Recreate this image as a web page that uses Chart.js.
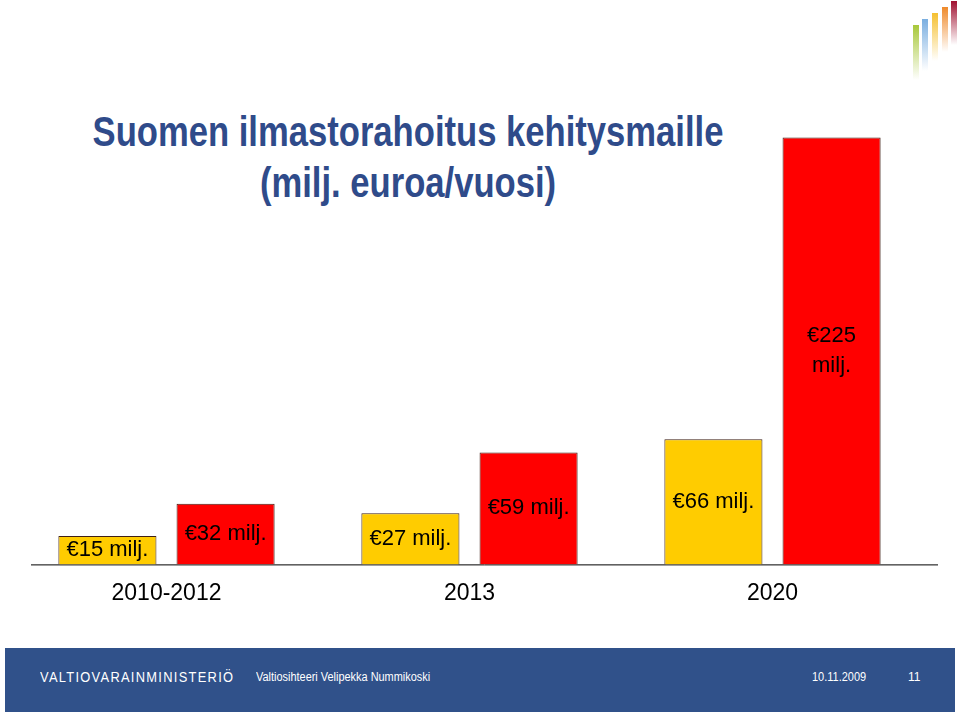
<!DOCTYPE html>
<html>
<head>
<meta charset="utf-8">
<script src="https://cdn.jsdelivr.net/npm/chart.js@4"></script>
<style>
  html, body { margin: 0; padding: 0; background: #fff; }
  body { width: 960px; height: 716px; position: relative; overflow: hidden;
         font-family: "Liberation Sans", Arial, sans-serif; }
  #wrap { position: absolute; left: 0; top: 80px; width: 960px; height: 560px; }
  .title { position: absolute; left: 0; top: 106px; width: 816px; text-align: center;
           font-weight: bold; font-size: 42px; line-height: 51px; color: #2f4b8a;
           transform: scaleX(0.824); transform-origin: 408px 0; }
  .footer { position: absolute; left: 5px; top: 648px; width: 950px; height: 64px; background: #30518a; }
  .ft { position: absolute; color: #fff; white-space: nowrap; transform-origin: 0 50%; }
  .logo i { position: absolute; width: 6px; display: block; }
</style>
</head>
<body>

<div class="logo">
  <i style="left:913px;top:25px;height:55px;background:linear-gradient(#a8c83a,rgba(168,200,58,0))"></i>
  <i style="left:922px;top:19px;height:52px;background:linear-gradient(#7aaee0,rgba(122,174,224,0))"></i>
  <i style="left:932px;top:13px;height:48px;background:linear-gradient(#f5c030,rgba(245,192,48,0))"></i>
  <i style="left:942px;top:7px;height:45px;background:linear-gradient(#ef8a2a,rgba(239,138,42,0))"></i>
  <i style="left:951px;top:1px;height:44px;background:linear-gradient(#a01030,rgba(160,16,48,0))"></i>
</div>

<div class="title">Suomen ilmastorahoitus kehitysmaille<br>(milj. euroa/vuosi)</div>

<div id="wrap"><canvas id="chart"></canvas></div>

<div class="footer"></div>
<div class="ft" id="ministry" style="left:40px;top:668px;font-size:15px;letter-spacing:1.5px;">VALTIOVARAINMINISTERIÖ</div>
<div class="ft" id="speaker" style="left:256px;top:670px;font-size:12px;">Valtiosihteeri Velipekka Nummikoski</div>
<div class="ft" id="date" style="left:812px;top:670px;font-size:12px;">10.11.2009</div>
<div class="ft" id="page" style="left:908px;top:670px;font-size:12px;">11</div>

<script>
"use strict";

// categories and the two series (lower / higher estimate)
const categories = ["2010-2012", "2013", "2020"];
const lowValues = [15, 27, 66];
const highValues = [32, 59, 225];
const yMax = 250;

const C = {
  yellow: "#ffcc00",
  red: "#ff0000",
  edge: "#3f2016",
  text: "#000000"
};

// squeeze footer texts to the widths they take on the slide
function fitWidth(id, w) {
  const el = document.getElementById(id);
  el.style.transform = "scaleX(" + (w / el.offsetWidth) + ")";
}
fitWidth("ministry", 194);
fitWidth("speaker", 174);
fitWidth("date", 54);

// the slide's baseline runs a little right of the category band
const baseLine = {
  id: "baseLine",
  beforeDatasetsDraw(chart) {
    const { ctx, chartArea } = chart;
    ctx.save();
    ctx.strokeStyle = "#000";
    ctx.lineWidth = 1;
    ctx.beginPath();
    ctx.moveTo(chartArea.left + 16, chartArea.bottom + 0.5);
    ctx.lineTo(chartArea.right + 14, chartArea.bottom + 0.5);
    ctx.stroke();
    ctx.restore();
  }
};

const barLabels = {
  id: "barLabels",
  afterDatasetsDraw(chart) {
    const ctx = chart.ctx;
    ctx.save();
    ctx.font = "22px 'Liberation Sans', Arial, sans-serif";
    ctx.fillStyle = C.text;
    ctx.textAlign = "center";
    ctx.textBaseline = "middle";
    chart.data.datasets.forEach((ds, i) => {
      chart.getDatasetMeta(i).data.forEach((bar, j) => {
        const txt = "€" + ds.data[j] + " milj.";
        const cy = (bar.y + bar.base) / 2;
        if (ctx.measureText(txt).width > bar.width * 0.93) {
          ctx.fillText("€" + ds.data[j], bar.x, cy - 15);
          ctx.fillText("milj.", bar.x, cy + 15);
        } else {
          ctx.fillText(txt, bar.x, cy);
        }
      });
    });
    ctx.restore();
  }
};

new Chart(document.getElementById("chart"), {
  type: "bar",
  data: {
    labels: categories,
    datasets: [
      { data: lowValues, backgroundColor: C.yellow, borderColor: C.edge, borderWidth: 1 },
      { data: highValues, backgroundColor: C.red, borderColor: C.edge, borderWidth: 1 }
    ]
  },
  options: {
    responsive: true,
    maintainAspectRatio: false,
    animation: false,
    datasets: { bar: { categoryPercentage: 0.78, barPercentage: 0.83 } },
    layout: { padding: { left: 15, right: 36, top: 10, bottom: 26 } },
    plugins: { legend: { display: false }, tooltip: { enabled: false } },
    scales: {
      x: {
        grid: { display: false },
        border: { display: false },
        ticks: { color: "#000", padding: 7, font: { family: "'Liberation Sans', Arial, sans-serif", size: 23 } }
      },
      y: { display: false, min: 0, max: yMax }
    }
  },
  plugins: [baseLine, barLabels]
});
</script>
</body>
</html>
